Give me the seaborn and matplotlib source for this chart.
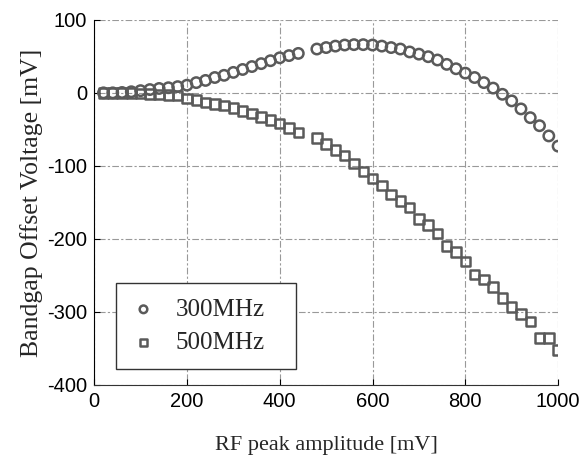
import numpy as np
import pandas as pd
import matplotlib
matplotlib.use('Agg')
import matplotlib.pyplot as plt
import seaborn as sns

# RF peak amplitude [mV] (460 mV point is missing in the measurement)
amp = [20, 40, 60, 80, 100, 120, 140, 160, 180, 200, 220, 240, 260, 280, 300,
       320, 340, 360, 380, 400, 420, 440, 480, 500, 520, 540, 560, 580, 600,
       620, 640, 660, 680, 700, 720, 740, 760, 780, 800, 820, 840, 860, 880,
       900, 920, 940, 960, 980, 1000]

# bandgap offset voltage [mV]
off_300 = [0, 0, 0.5, 1.5, 3, 4.5, 6, 7, 8.5, 10.5, 14, 17, 21, 24, 28,
           32, 36, 40, 44, 48, 51, 54, 60, 62, 64, 65.5, 66, 66, 65.5,
           64, 62, 60, 56, 53, 49.5, 45, 39, 33, 27, 21, 14, 6.5, -2,
           -11, -22, -34, -45, -59, -73]
off_500 = [0, 0, 0, 0, -1, -1.5, -2, -3, -4, -8, -10, -13, -15, -17, -21,
           -25, -28, -33, -37, -42, -48, -54, -62, -70, -78, -86, -97, -108, -117,
           -127, -139, -148, -157, -173, -181, -193, -210, -218, -231, -249, -256, -266, -281,
           -293, -303, -313, -336, -336, -352]

labels = ['300MHz', '500MHz']

df = pd.DataFrame({
    'amp': amp * 2,
    'offset': off_300 + off_500,
    'freq': [labels[0]] * len(amp) + [labels[1]] * len(amp),
})

sns.set_style('white')
plt.rcParams['axes.unicode_minus'] = False
fig = plt.figure(figsize=(5.85, 4.61), dpi=100)
ax = fig.add_axes([0.161, 0.165, 0.793, 0.792])

mk = {'300MHz': ('o', 56), '500MHz': ('s', 46)}
for f in labels:
    sub = df[df['freq'] == f]
    sns.scatterplot(data=sub, x='amp', y='offset', marker=mk[f][0], s=mk[f][1],
                    facecolor='none', edgecolor='#5a5a5a', linewidth=1.8,
                    label=f, ax=ax, zorder=3)

ax.set_xlim(0, 1000)
ax.set_ylim(-400, 100)
ax.set_xticks([0, 200, 400, 600, 800, 1000])
ax.set_yticks([-400, -300, -200, -100, 0, 100])
ax.grid(True, linestyle=(0, (2, 2, 6, 2)), color='#999999', linewidth=0.8)
for s in ['top', 'right']:
    ax.spines[s].set_visible(False)
ax.spines['left'].set_color('black')
ax.spines['bottom'].set_color('#333333')
ax.tick_params(direction='in', length=4, labelsize=14.5, colors='black', left=True, bottom=True, pad=5)
for t in ax.get_xticklabels() + ax.get_yticklabels():
    t.set_fontfamily('Liberation Sans')

ax.set_xlabel('RF peak amplitude [mV]', fontsize=16, fontfamily='Liberation Serif', labelpad=18)
ax.set_ylabel('Bandgap Offset Voltage [mV]', fontsize=18.5, fontfamily='Liberation Serif', labelpad=3)

leg = ax.legend(loc='lower left', bbox_to_anchor=(0.047, 0.044, 0.389, 0.2), mode='expand',
                frameon=True, fancybox=False,
                prop={'family': 'Liberation Serif', 'size': 18}, borderpad=0.6,
                handletextpad=0.8, labelspacing=0.42, borderaxespad=0, handlelength=1.0)
leg.get_frame().set_edgecolor('#333333')
leg.get_frame().set_linewidth(1.0)
leg.get_frame().set_alpha(1)
for h in leg.legend_handles:
    h.set_sizes([30])

fig.savefig('out.png', dpi=100)
